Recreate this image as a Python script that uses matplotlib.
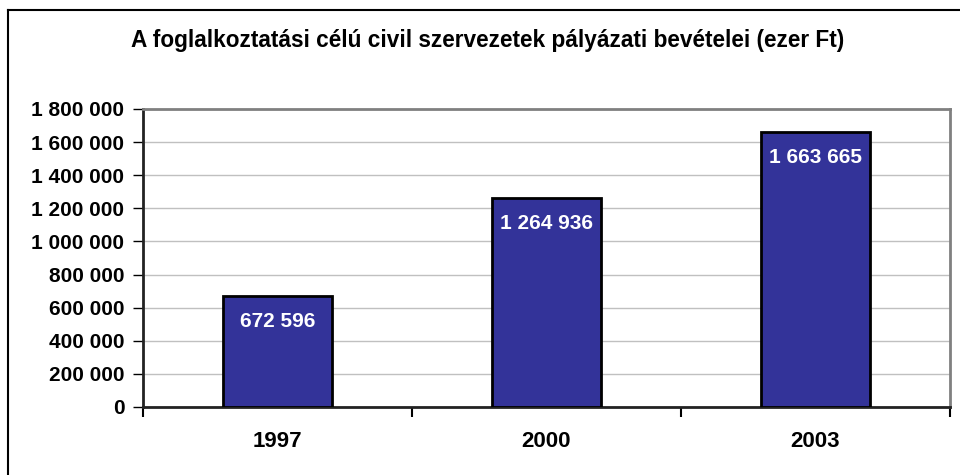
import matplotlib
matplotlib.use("Agg")
import matplotlib.pyplot as plt
from matplotlib.lines import Line2D

categories = ["1997", "2000", "2003"]
values = [672596, 1264936, 1663665]
yticks = [0, 200000, 400000, 600000, 800000, 1000000, 1200000, 1400000, 1600000, 1800000]
title = "A foglalkoztatási célú civil szervezetek pályázati bevételei (ezer Ft)"

def fmt(v):
    return f"{v:,}".replace(",", " ")

plt.rcParams['font.family'] = ['Liberation Sans', 'DejaVu Sans']

W, H = 960, 475
fig = plt.figure(figsize=(W/100, H/100), dpi=100)
ax = fig.add_axes([143/W, 1-407/H, (950-143)/W, (407-109)/H])

x = list(range(len(categories)))
bars = ax.bar(x, values, width=0.405, color="#333399", edgecolor="black", linewidth=2, zorder=3)
for xi, v in zip(x, values):
    ax.annotate(fmt(v), (xi, v), xytext=(0, -12), textcoords="offset points",
                ha="center", va="top", color="white", fontsize=15, fontweight="bold", zorder=4)

ax.set_xlim(-0.5, len(categories)-0.5)
ax.set_ylim(0, 1800000)
ax.set_yticks(yticks)
ax.set_yticklabels([fmt(v) for v in yticks], fontsize=15, fontweight="bold")
ax.yaxis.grid(True, color="#c0c0c0", linewidth=1, zorder=0)
ax.set_axisbelow(True)

ax.set_xticks([i - 0.5 for i in range(len(categories)+1)])
ax.set_xticklabels([])
ax.set_xticks(x, minor=True)
ax.set_xticklabels(categories, minor=True, fontsize=16, fontweight="bold")
ax.tick_params(axis="x", which="minor", length=0, pad=17)
ax.tick_params(axis="x", which="major", length=7, width=1.5, color="black", direction="out")
ax.tick_params(axis="y", length=7, width=1, color="black", pad=6.5)

for s in ["top", "right"]:
    ax.spines[s].set_color("#808080")
    ax.spines[s].set_linewidth(2)
for s in ["left", "bottom"]:
    ax.spines[s].set_color("#222222")
    ax.spines[s].set_linewidth(2)

fig.text(488/W, 1-40/H, title, ha="center", va="center", fontsize=16.3, fontweight="bold")

# outer chart border (top and left visible)
fig.add_artist(Line2D([8/W, 8/W], [0, 1-10/H], color="black", linewidth=1.5, transform=fig.transFigure))
fig.add_artist(Line2D([8/W, 1], [1-10/H, 1-10/H], color="black", linewidth=1.5, transform=fig.transFigure))

fig.savefig("out.png", dpi=100)
